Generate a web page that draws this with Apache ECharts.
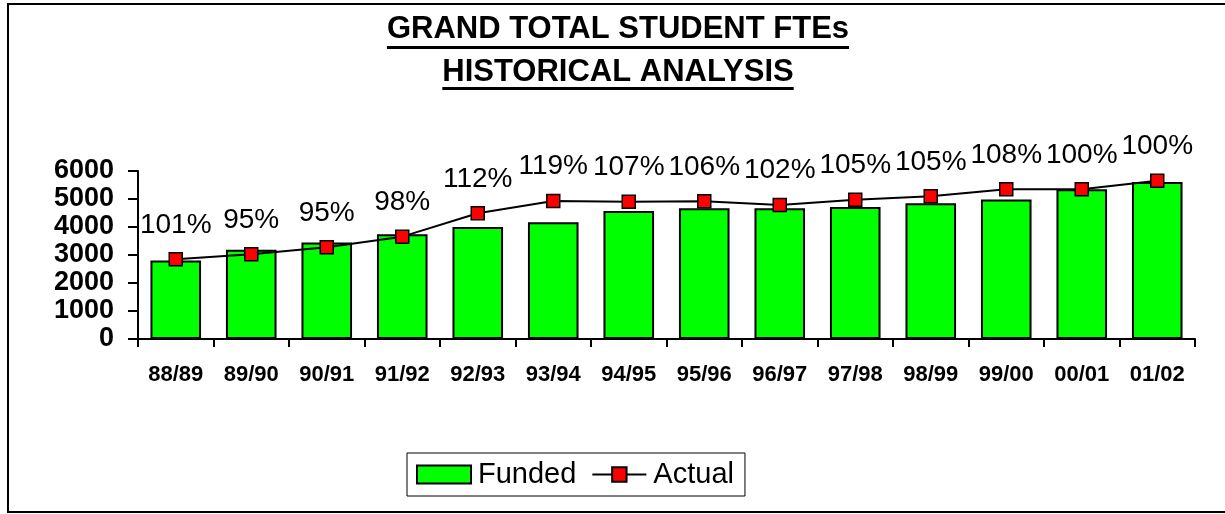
<!DOCTYPE html>
<html>
<head>
<meta charset="utf-8">
<script src="https://cdn.jsdelivr.net/npm/echarts@6/dist/echarts.min.js"></script>
<style>
html,body{margin:0;padding:0;background:#fff;}
#chart{width:1225px;height:514px;}
</style>
</head>
<body>
<div id="chart"></div>
<script>
const categories = ['88/89','89/90','90/91','91/92','92/93','93/94','94/95','95/96','96/97','97/98','98/99','99/00','00/01','01/02'];
const funded = [2800, 3190, 3450, 3740, 4000, 4170, 4570, 4670, 4670, 4710, 4850, 4980, 5350, 5610];
const actual = [2850, 3025, 3275, 3655, 4490, 4930, 4905, 4920, 4785, 4975, 5095, 5346, 5346, 5650];
const ratioLabels = ['101%','95%','95%','98%','112%','119%','107%','106%','102%','105%','105%','108%','100%','100%'];
const titleLines = ['GRAND TOTAL STUDENT FTEs', 'HISTORICAL ANALYSIS'];
const yMin = 0, yMax = 6000, yStep = 1000;

const FONT = "'Liberation Sans', Arial, Helvetica, sans-serif";
const titleFontSize = 31;
const titleCenterX = 618;

function measure(text, font) {
  const c = document.createElement('canvas').getContext('2d');
  c.font = font;
  return c.measureText(text).width;
}
const titleFont = 'bold ' + titleFontSize + 'px ' + FONT;
const underlineYs = [46, 87];
const underlines = titleLines.map((t, i) => {
  const w = measure(t, titleFont);
  return {
    type: 'rect',
    shape: { x: titleCenterX - w / 2, y: underlineYs[i], width: w, height: 3 },
    style: { fill: '#000' },
    silent: true
  };
});

const chart = echarts.init(document.getElementById('chart'), null, { renderer: 'canvas' });
chart.setOption({
  backgroundColor: '#fff',
  animation: false,
  title: {
    text: titleLines.join('\n'),
    left: titleCenterX,
    textAlign: 'center',
    top: 8,
    padding: 0,
    textStyle: {
      fontFamily: FONT,
      fontWeight: 'bold',
      fontSize: titleFontSize,
      lineHeight: 43,
      color: '#000'
    }
  },
  graphic: [
    {
      type: 'rect',
      shape: { x: 8, y: 4, width: 1240, height: 508 },
      style: { fill: 'none', stroke: '#000', lineWidth: 2 },
      silent: true
    }
  ].concat(underlines),
  legend: {
    left: 407,
    top: 453,
    orient: 'horizontal',
    itemWidth: 54,
    itemHeight: 18,
    itemGap: 15,
    padding: [7, 11, 7, 9],
    borderColor: '#000',
    borderWidth: 1,
    backgroundColor: '#fff',
    textStyle: { fontFamily: FONT, fontSize: 29, color: '#000', padding: [0, 0, 0, 2] },
    data: [{ name: 'Funded', icon: 'rect' }, { name: 'Actual' }]
  },
  grid: { left: 138, right: 30, top: 171, bottom: 175, containLabel: false },
  xAxis: {
    type: 'category',
    data: categories,
    boundaryGap: true,
    axisLine: { show: true, lineStyle: { color: '#000', width: 2 } },
    axisTick: { show: true, length: 8, interval: 0, lineStyle: { color: '#000', width: 2 } },
    axisLabel: { interval: 0, margin: 25, fontFamily: FONT, fontWeight: 'bold', fontSize: 22, color: '#000' },
    splitLine: { show: false }
  },
  yAxis: {
    type: 'value',
    min: yMin,
    max: yMax,
    interval: yStep,
    axisLine: { show: true, lineStyle: { color: '#000', width: 2 } },
    axisTick: { show: true, length: 10, lineStyle: { color: '#000', width: 2 } },
    axisLabel: {
      margin: 24, fontFamily: FONT, fontWeight: 'bold', fontSize: 27, color: '#000',
      formatter: v => String(v)
    },
    splitLine: { show: false }
  },
  series: [
    {
      name: 'Funded',
      type: 'bar',
      data: funded,
      barCategoryGap: '33%',
      itemStyle: { color: '#00FF00', borderColor: '#000', borderWidth: 2 },
      z: 2
    },
    {
      name: 'Actual',
      type: 'line',
      data: actual,
      symbol: 'rect',
      symbolSize: 13,
      lineStyle: { color: '#000', width: 2 },
      itemStyle: { color: '#FF0000', borderColor: '#000', borderWidth: 1.5 },
      label: {
        show: true,
        position: 'top',
        distance: 13,
        fontFamily: FONT,
        fontSize: 28,
        color: '#000',
        formatter: p => ratioLabels[p.dataIndex]
      },
      z: 3
    }
  ]
});
</script>
</body>
</html>
